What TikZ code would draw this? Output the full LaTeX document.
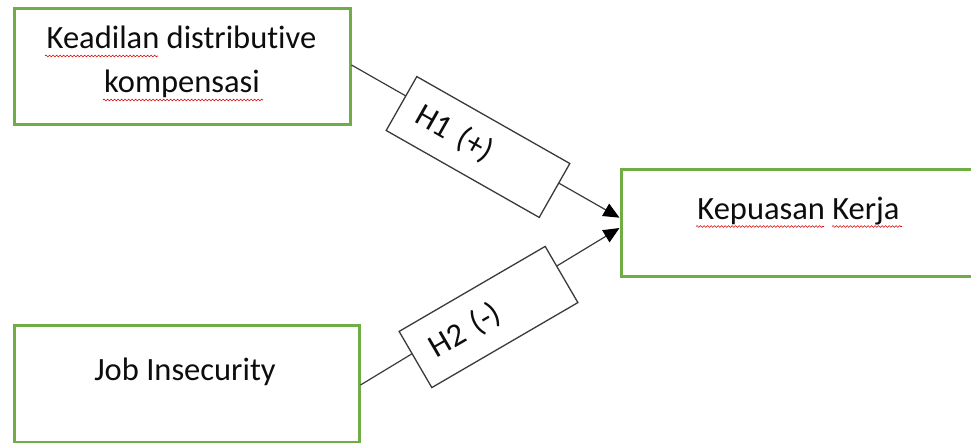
\documentclass[tikz,border=0pt]{standalone}
\usepackage{fontspec}
\setmainfont{Carlito}[Ligatures=CommonOff]
\usetikzlibrary{arrows.meta,decorations.pathmorphing,calc}
\definecolor{boxgreen}{HTML}{70AD47}
\definecolor{ink}{HTML}{0D0D0D}
\definecolor{conn}{HTML}{3A3A3A}
\tikzset{
  varbox/.style={draw=boxgreen, line width=3pt, fill=white, inner sep=0pt},
  txt/.style={text=ink, inner sep=0pt, anchor=base, font=\fontsize{32.5}{40}\selectfont},
  hbox/.style={draw=conn, line width=1.3pt, fill=white, inner xsep=19pt, inner ysep=0pt,
    text width=138pt, align=left, text=ink, font=\fontsize{32.5}{40}\selectfont},
  conline/.style={draw=conn, line width=1.2pt, -{Triangle[length=16pt,width=14pt,color=black,fill=black]}},
  squig/.style={draw=red!85!black, line width=0.6pt, decorate, decoration={snake, amplitude=0.9pt, segment length=3.5pt}}
}
\begin{document}
\begin{tikzpicture}[x=1pt,y=-1pt]
\useasboundingbox (0,0) rectangle (971,443);
\clip (0,0) rectangle (971,443);
% variable boxes
\node[varbox, minimum width=336pt, minimum height=116pt] (b1) at (182,67) {};
\node[varbox, minimum width=345pt, minimum height=116pt] (b2) at (186.5,384) {};
\node[varbox, minimum width=356pt, minimum height=107.5pt] (b3) at (799,223.2) {};
% texts
\node[txt] (t1a) at (181.5,49) {Keadilan distributive};
\node[txt] (t1b) at (182,93) {kompensasi};
\node[txt] (t2) at (185,380) {Job Insecurity};
\node[txt] (t3) at (798.5,220) {Kepuasan Kerja};
% spell-check squiggles
\draw[squig] (45,56) -- (158,56);
\draw[squig] (103,100) -- (263,100);
\draw[squig] (696,226.5) -- (824,226.5);
\draw[squig] (832,226.5) -- (902,226.5);
% connectors
\draw[conline] ([yshift=2pt]b1.east) -- ([yshift=5.5pt]b3.west);
\draw[conline] ([yshift=-1pt]b2.east) -- ([yshift=-4.8pt]b3.west);
% hypothesis boxes
\node[hbox, rotate=-29.6, minimum height=62pt] (h1) at (478,147) {H1 (+)};
\node[hbox, rotate=30.2, minimum height=65pt, text width=131pt] (h2) at (488.5,317) {H2 (-)};
\end{tikzpicture}
\end{document}
